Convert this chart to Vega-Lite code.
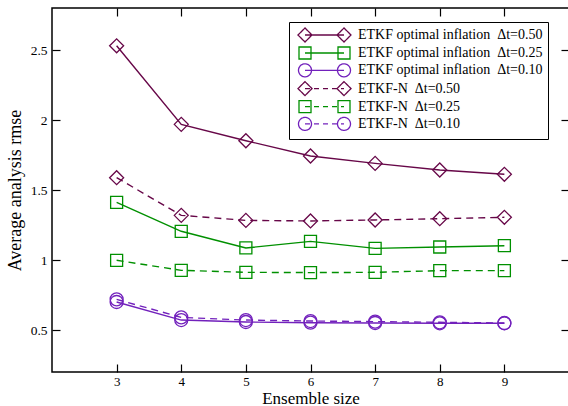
{
  "$schema": "https://vega.github.io/schema/vega-lite/v6.json",
  "width": 517,
  "height": 364,
  "autosize": "none",
  "padding": {"left": 52, "top": 8, "right": 0, "bottom": 34},
  "background": "white",
  "config": {
    "view": {"stroke": "black", "strokeWidth": 1.5},
    "font": "Liberation Serif",
    "axis": {"labelFont": "Liberation Serif", "titleFont": "Liberation Serif", "labelColor": "black", "titleColor": "black", "tickColor": "black", "titleFontWeight": "normal", "grid": false, "domain": false, "tickWidth": 1.2},
    "legend": {"labelFont": "Liberation Serif", "labelColor": "black"}
  },
  "data": {
    "values": [
      {"n": 3, "rmse": 2.53, "series": "ETKF optimal inflation\u00a0 Δt=0.50"},
      {"n": 4, "rmse": 1.969, "series": "ETKF optimal inflation\u00a0 Δt=0.50"},
      {"n": 5, "rmse": 1.852, "series": "ETKF optimal inflation\u00a0 Δt=0.50"},
      {"n": 6, "rmse": 1.743, "series": "ETKF optimal inflation\u00a0 Δt=0.50"},
      {"n": 7, "rmse": 1.69, "series": "ETKF optimal inflation\u00a0 Δt=0.50"},
      {"n": 8, "rmse": 1.643, "series": "ETKF optimal inflation\u00a0 Δt=0.50"},
      {"n": 9, "rmse": 1.612, "series": "ETKF optimal inflation\u00a0 Δt=0.50"},
      {"n": 3, "rmse": 1.412, "series": "ETKF optimal inflation\u00a0 Δt=0.25"},
      {"n": 4, "rmse": 1.205, "series": "ETKF optimal inflation\u00a0 Δt=0.25"},
      {"n": 5, "rmse": 1.086, "series": "ETKF optimal inflation\u00a0 Δt=0.25"},
      {"n": 6, "rmse": 1.133, "series": "ETKF optimal inflation\u00a0 Δt=0.25"},
      {"n": 7, "rmse": 1.083, "series": "ETKF optimal inflation\u00a0 Δt=0.25"},
      {"n": 8, "rmse": 1.093, "series": "ETKF optimal inflation\u00a0 Δt=0.25"},
      {"n": 9, "rmse": 1.102, "series": "ETKF optimal inflation\u00a0 Δt=0.25"},
      {"n": 3, "rmse": 0.70, "series": "ETKF optimal inflation\u00a0 Δt=0.10"},
      {"n": 4, "rmse": 0.571, "series": "ETKF optimal inflation\u00a0 Δt=0.10"},
      {"n": 5, "rmse": 0.557, "series": "ETKF optimal inflation\u00a0 Δt=0.10"},
      {"n": 6, "rmse": 0.552, "series": "ETKF optimal inflation\u00a0 Δt=0.10"},
      {"n": 7, "rmse": 0.55, "series": "ETKF optimal inflation\u00a0 Δt=0.10"},
      {"n": 8, "rmse": 0.548, "series": "ETKF optimal inflation\u00a0 Δt=0.10"},
      {"n": 9, "rmse": 0.548, "series": "ETKF optimal inflation\u00a0 Δt=0.10"},
      {"n": 3, "rmse": 1.588, "series": "ETKF-N\u00a0 Δt=0.50"},
      {"n": 4, "rmse": 1.319, "series": "ETKF-N\u00a0 Δt=0.50"},
      {"n": 5, "rmse": 1.283, "series": "ETKF-N\u00a0 Δt=0.50"},
      {"n": 6, "rmse": 1.279, "series": "ETKF-N\u00a0 Δt=0.50"},
      {"n": 7, "rmse": 1.286, "series": "ETKF-N\u00a0 Δt=0.50"},
      {"n": 8, "rmse": 1.295, "series": "ETKF-N\u00a0 Δt=0.50"},
      {"n": 9, "rmse": 1.305, "series": "ETKF-N\u00a0 Δt=0.50"},
      {"n": 3, "rmse": 0.998, "series": "ETKF-N\u00a0 Δt=0.25"},
      {"n": 4, "rmse": 0.926, "series": "ETKF-N\u00a0 Δt=0.25"},
      {"n": 5, "rmse": 0.912, "series": "ETKF-N\u00a0 Δt=0.25"},
      {"n": 6, "rmse": 0.91, "series": "ETKF-N\u00a0 Δt=0.25"},
      {"n": 7, "rmse": 0.912, "series": "ETKF-N\u00a0 Δt=0.25"},
      {"n": 8, "rmse": 0.924, "series": "ETKF-N\u00a0 Δt=0.25"},
      {"n": 9, "rmse": 0.924, "series": "ETKF-N\u00a0 Δt=0.25"},
      {"n": 3, "rmse": 0.719, "series": "ETKF-N\u00a0 Δt=0.10"},
      {"n": 4, "rmse": 0.59, "series": "ETKF-N\u00a0 Δt=0.10"},
      {"n": 5, "rmse": 0.571, "series": "ETKF-N\u00a0 Δt=0.10"},
      {"n": 6, "rmse": 0.564, "series": "ETKF-N\u00a0 Δt=0.10"},
      {"n": 7, "rmse": 0.56, "series": "ETKF-N\u00a0 Δt=0.10"},
      {"n": 8, "rmse": 0.555, "series": "ETKF-N\u00a0 Δt=0.10"},
      {"n": 9, "rmse": 0.55, "series": "ETKF-N\u00a0 Δt=0.10"}
    ]
  },
  "encoding": {
    "x": {"field": "n", "type": "quantitative", "scale": {"domain": [2, 10], "nice": false}, "axis": null},
    "y": {"field": "rmse", "type": "quantitative", "scale": {"domain": [0.2, 2.8], "nice": false, "zero": false}, "axis": null},
    "color": {"field": "series", "type": "nominal",
      "scale": {"domain": ["ETKF optimal inflation\u00a0 Δt=0.50", "ETKF optimal inflation\u00a0 Δt=0.25", "ETKF optimal inflation\u00a0 Δt=0.10", "ETKF-N\u00a0 Δt=0.50", "ETKF-N\u00a0 Δt=0.25", "ETKF-N\u00a0 Δt=0.10"],
                "range": ["#670748", "#009000", "#7221bc", "#670748", "#009000", "#7221bc"]},
      "legend": {"title": null, "orient": "none", "legendX": 237, "legendY": 14, "padding": 5, "strokeColor": "black", "fillColor": "white", "labelFontSize": 14, "labelFont": "Liberation Serif", "labelLimit": 400, "symbolSize": 196, "symbolOffset": 3, "labelOffset": 45, "rowPadding": -1.7, "symbolStrokeWidth": 1.3, "symbolType": "circle",
        "encode": {"symbols": {"update": {
          "fill": {"value": "transparent"},
          "strokeDash": {"value": [1, 0]},
          "shape": {"signal": "indexof(datum.value,'-N')>=0 ? (indexof(datum.value,'0.50')>=0 ? 'M-1,0L0,-1L1,0L0,1Z M4.571,0L5.571,-1L6.571,0L5.571,1Z M0,0L0.714,0 M1.286,0L2,0 M2.571,0L3.286,0 M3.857,0L4.571,0 M5.143,0L5.571,0' : indexof(datum.value,'0.25')>=0 ? 'M-0.857,-0.857L0.857,-0.857L0.857,0.857L-0.857,0.857Z M4.714,-0.857L6.428,-0.857L6.428,0.857L4.714,0.857Z M0,0L0.714,0 M1.286,0L2,0 M2.571,0L3.286,0 M3.857,0L4.571,0 M5.143,0L5.571,0' : 'M-0.929,0A0.929,0.929 0 1,1 0.929,0A0.929,0.929 0 1,1 -0.929,0Z M4.642,0A0.929,0.929 0 1,1 6.5,0A0.929,0.929 0 1,1 4.642,0Z M0,0L0.714,0 M1.286,0L2,0 M2.571,0L3.286,0 M3.857,0L4.571,0 M5.143,0L5.571,0') : (indexof(datum.value,'0.50')>=0 ? 'M-1,0L0,-1L1,0L0,1Z M4.571,0L5.571,-1L6.571,0L5.571,1Z M0,0L5.571,0' : indexof(datum.value,'0.25')>=0 ? 'M-0.857,-0.857L0.857,-0.857L0.857,0.857L-0.857,0.857Z M4.714,-0.857L6.428,-0.857L6.428,0.857L4.714,0.857Z M0,0L5.571,0' : 'M-0.929,0A0.929,0.929 0 1,1 0.929,0A0.929,0.929 0 1,1 -0.929,0Z M4.642,0A0.929,0.929 0 1,1 6.5,0A0.929,0.929 0 1,1 4.642,0Z M0,0L5.571,0')"}
        }}}
      }}
  },
  "layer": [
    {
      "transform": [{"filter": "indexof(datum.series,'-N') < 0"}],
      "mark": {"type": "line", "strokeWidth": 1.4},
      "encoding": {
        "x": {"field": "n", "type": "quantitative",
              "axis": {"values": [3, 4, 5, 6, 7, 8, 9], "title": "Ensemble size", "titleFontSize": 17, "labelFontSize": 13, "labelFont": "Liberation Serif", "titleFont": "Liberation Serif", "tickSize": -8, "labelPadding": 11, "titlePadding": 2}},
        "y": {"field": "rmse", "type": "quantitative",
              "axis": {"values": [0.5, 1, 1.5, 2, 2.5], "format": "~g", "title": "Average analysis rmse", "titleFontSize": 18, "labelFontSize": 13.5, "labelFont": "Liberation Serif", "titleFont": "Liberation Serif", "tickSize": -8, "labelPadding": 13, "titlePadding": 6}}
      }
    },
    {
      "transform": [{"filter": "indexof(datum.series,'-N') >= 0"}],
      "mark": {"type": "line", "strokeWidth": 1.4, "strokeDash": [7, 5]},
      "encoding": {}
    },
    {
      "transform": [{"filter": "indexof(datum.series,'0.50') >= 0"}],
      "mark": {"type": "point", "shape": "diamond", "size": 196, "filled": false, "strokeWidth": 1.3, "opacity": 1},
      "encoding": {
        "x": {"field": "n", "type": "quantitative", "axis": {"orient": "top", "values": [3, 4, 5, 6, 7, 8, 9], "labels": false, "title": null, "tickSize": -8}},
        "y": {"field": "rmse", "type": "quantitative", "axis": {"orient": "right", "values": [0.5, 1, 1.5, 2, 2.5], "labels": false, "title": null, "tickSize": -8}}
      }
    },
    {
      "transform": [{"filter": "indexof(datum.series,'0.25') >= 0"}],
      "mark": {"type": "point", "shape": "square", "size": 144, "filled": false, "strokeWidth": 1.3, "opacity": 1},
      "encoding": {}
    },
    {
      "transform": [{"filter": "indexof(datum.series,'0.10') >= 0"}],
      "mark": {"type": "point", "shape": "circle", "size": 169, "filled": false, "strokeWidth": 1.3, "opacity": 1},
      "encoding": {}
    }
  ],
  "resolve": {"axis": {"x": "independent", "y": "independent"}}
}
